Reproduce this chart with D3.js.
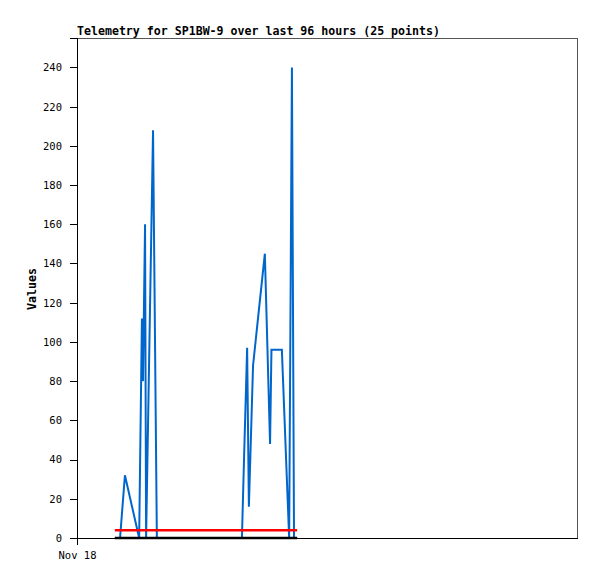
<!DOCTYPE html>
<html>
<head>
<meta charset="utf-8">
<script src="https://cdn.jsdelivr.net/npm/d3@7"></script>
<style>
  html, body { margin: 0; padding: 0; background: #fff; }
  svg { display: block; }
</style>
</head>
<body>
<svg id="chart" width="597" height="579"></svg>
<script>
// ---- data ----
const titleText = "Telemetry for SP1BW-9 over last 96 hours (25 points)";
const yLabel = "Values";
const day = "2023-11-18";
const times = ["01:49","02:04","02:18","02:59","03:07","03:10","03:16","03:19","03:39","03:50",
               "05:11","06:37","07:55","08:01","08:10","08:15","08:27","09:01","09:16","09:20",
               "09:50","10:11","10:19","10:25","10:34"];
const blueValues = [0,0,32,0,112,80,160,0,208,0,
                    0,0,0,40,97,16,88,145,48,96,
                    96,0,240,0,0];
const redValues = times.map(() => 4);
const blackValues = times.map(() => 0);
const yTicks = [0,20,40,60,80,100,120,140,160,180,200,220,240];
const xTickLabels = ["Nov 18"];
const xTickDates = ["2023-11-18T00:00"];

// ---- chart ----
const svg = d3.select("#chart");
const margin = {left: 77, top: 38, right: 20, bottom: 41};
const W = 597, H = 579;
const parse = d3.timeParse("%Y-%m-%dT%H:%M");
const dates = times.map(t => parse(day + "T" + t));

const x = d3.scaleTime()
  .domain([parse("2023-11-18T00:00"), parse("2023-11-19T00:00")])
  .range([margin.left, W - margin.right]);
const y = d3.scaleLinear().domain([0, 255]).range([H - margin.bottom, margin.top]);

const font = "'DejaVu Sans Mono', monospace";

// frame (top & right)
svg.append("path")
  .attr("d", `M${margin.left},${margin.top}.5 H${W - margin.right}.5 V${H - margin.bottom}`)
  .attr("fill", "none").attr("stroke", "#555").attr("stroke-width", 1)
  .attr("shape-rendering", "crispEdges");

// series
function drawLine(vals, color, width) {
  const line = d3.line().x((d, i) => x(dates[i])).y(d => y(d));
  svg.append("path").datum(vals)
    .attr("d", line)
    .attr("fill", "none").attr("stroke", color).attr("stroke-width", width)
    .attr("stroke-linejoin", "miter");
}
drawLine(blueValues, "#0066cc", 2);
drawLine(redValues, "#ff0000", 2.5);
drawLine(blackValues, "#000000", 2.5);

// y axis
const yAxis = d3.axisLeft(y).tickValues(yTicks).tickSize(7).tickPadding(8);
const gy = svg.append("g").attr("transform", `translate(${margin.left},0)`).call(yAxis);
gy.select(".domain").attr("stroke", "#000").attr("shape-rendering", "crispEdges");
gy.selectAll(".tick line").attr("stroke", "#000").attr("shape-rendering", "crispEdges");
gy.selectAll("text").attr("font-family", font).attr("font-size", "10.5px").attr("fill", "#000");

// x axis
const xAxis = d3.axisBottom(x)
  .tickValues(xTickDates.map(parse))
  .tickFormat((d, i) => xTickLabels[i])
  .tickSize(7).tickPadding(7).tickSizeOuter(0);
const gx = svg.append("g").attr("transform", `translate(0,${H - margin.bottom})`).call(xAxis);
gx.select(".domain").attr("stroke", "#000").attr("shape-rendering", "crispEdges");
gx.selectAll(".tick line").attr("stroke", "#000").attr("shape-rendering", "crispEdges");
gx.selectAll("text").attr("font-family", font).attr("font-size", "10.5px").attr("fill", "#000");

// title
svg.append("text")
  .attr("x", margin.left).attr("y", 35)
  .attr("font-family", font).attr("font-weight", "bold").attr("font-size", "11.6px")
  .text(titleText);

// y label
svg.append("text")
  .attr("transform", "translate(36,289) rotate(-90)")
  .attr("text-anchor", "middle")
  .attr("font-family", font).attr("font-weight", "bold").attr("font-size", "11.6px")
  .text(yLabel);
</script>
</body>
</html>
